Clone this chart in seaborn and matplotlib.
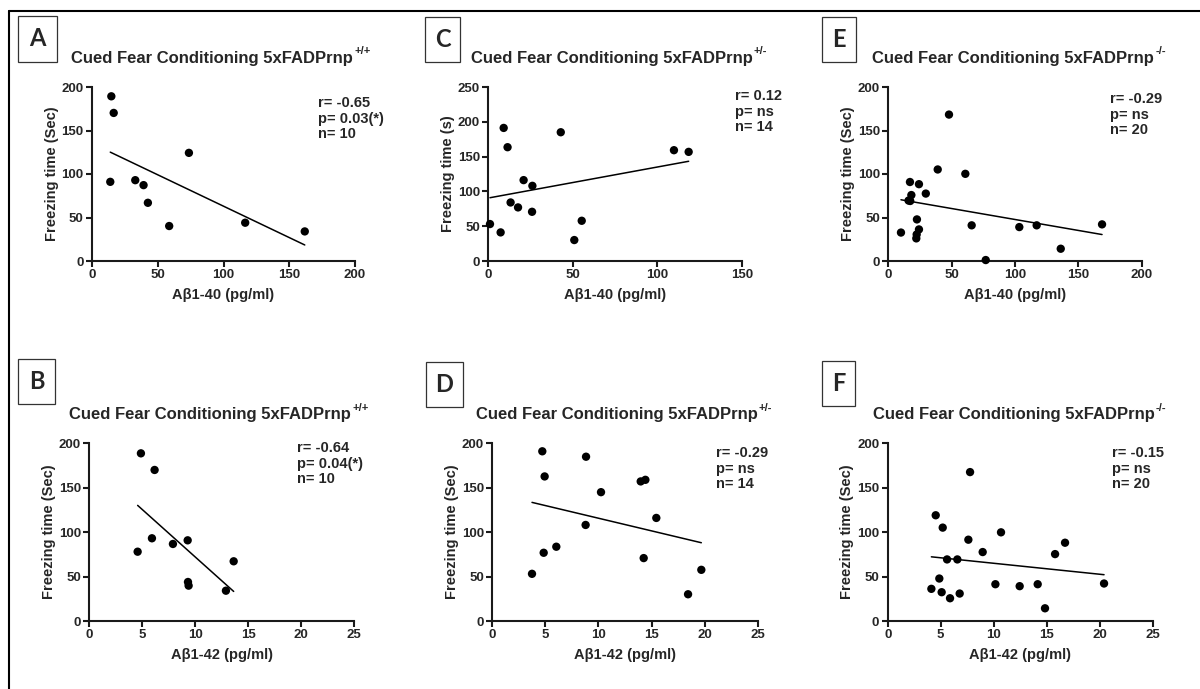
import matplotlib
matplotlib.use("Agg")
import numpy as np
import pandas as pd
import matplotlib.pyplot as plt
from matplotlib.lines import Line2D
from matplotlib.patches import Rectangle
import seaborn as sns

# ---- data: freezing time vs. amyloid-beta levels per genotype ----
# A: Aβ1-40, 5xFADPrnp+/+
a_x = [14.7, 16.5, 13.9, 32.9, 39.2, 42.5, 58.7, 73.7, 116.5, 161.8]
a_y = [189.3, 170.2, 91.0, 92.9, 87.2, 66.9, 40.2, 124.3, 44.0, 34.0]
# B: Aβ1-42, 5xFADPrnp+/+
b_x = [4.87, 6.16, 4.56, 5.91, 7.89, 9.28, 9.31, 9.37, 12.89, 13.62]
b_y = [188.7, 170.0, 78.0, 93.1, 86.7, 90.8, 43.9, 39.8, 34.1, 67.2]
# C: Aβ1-40, 5xFADPrnp+/-
c_x = [1.0, 7.3, 9.1, 11.4, 13.2, 17.6, 20.9, 26.1, 25.9, 42.9, 50.9, 55.3, 109.9, 118.6]
c_y = [53.1, 41.1, 191.2, 163.5, 84.1, 77.0, 116.2, 108.0, 70.7, 185.0, 30.1, 57.8, 159.2, 156.8]
# D: Aβ1-42, 5xFADPrnp+/-
d_x = [3.74, 4.71, 4.93, 4.84, 6.03, 8.83, 8.79, 10.24, 13.98, 14.42, 14.26, 15.45, 18.44, 19.69]
d_y = [53.1, 191.0, 162.7, 76.8, 83.6, 184.9, 108.1, 145.0, 157.1, 158.9, 70.8, 116.0, 30.1, 57.6]
# E: Aβ1-40, 5xFADPrnp-/-
e_x = [10.0, 17.1, 24.2, 29.6, 18.2, 16.0, 17.3, 39.0, 60.8, 65.8,
       76.9, 103.4, 117.1, 136.1, 168.7, 22.6, 24.2, 22.4, 22.1, 47.9]
e_y = [32.7, 90.8, 88.3, 77.5, 75.8, 69.5, 69.0, 105.2, 100.2, 41.0,
       1.1, 39.0, 41.0, 14.1, 42.1, 47.8, 36.3, 30.5, 26.0, 168.3]
# F: Aβ1-42, 5xFADPrnp-/-
f_x = [4.12, 4.53, 4.87, 5.19, 5.09, 5.60, 5.88, 6.57, 6.79, 7.61,
       7.77, 8.96, 10.16, 10.69, 12.45, 14.15, 14.84, 15.79, 16.73, 20.41]
f_y = [36.2, 119.0, 47.8, 105.1, 32.4, 69.3, 25.6, 69.3, 30.9, 91.5,
       167.6, 77.6, 41.4, 99.8, 39.2, 41.4, 14.3, 75.3, 88.1, 42.2]

panel_letters = ["A", "B", "C", "D", "E", "F"]
genotypes = ["+/+", "+/+", "+/-", "+/-", "-/-", "-/-"]
x_labels = ["Aβ1-40 (pg/ml)", "Aβ1-42 (pg/ml)"] * 3
y_labels = ["Freezing time (Sec)", "Freezing time (Sec)", "Freezing time (s)",
            "Freezing time (Sec)", "Freezing time (Sec)", "Freezing time (Sec)"]
stats_text = [
    ["r= -0.65", "p= 0.03(*)", "n= 10"],
    ["r= -0.64", "p= 0.04(*)", "n= 10"],
    ["r= 0.12", "p= ns", "n= 14"],
    ["r= -0.29", "p= ns", "n= 14"],
    ["r= -0.29", "p= ns", "n= 20"],
    ["r= -0.15", "p= ns", "n= 20"],
]
x_max = [200, 25, 150, 25, 200, 25]
x_step = [50, 5, 50, 5, 50, 5]
y_max = [200, 200, 250, 200, 200, 200]
xs = [a_x, b_x, c_x, d_x, e_x, f_x]
ys = [a_y, b_y, c_y, d_y, e_y, f_y]

# ---- style ----
sns.set_style("ticks")
plt.rcParams["font.family"] = ["Liberation Sans", "DejaVu Sans"]
plt.rcParams["font.weight"] = "bold"

W, H = 1200, 689
fig = plt.figure(figsize=(12, 6.89), dpi=100)
fig.patch.set_facecolor("white")

def fx(px):
    return px / W

def fy(py):
    return 1 - py / H

# axes rectangles in pixel space: (left, right, top, bottom)
axes_px = [
    (92, 355, 87, 261),
    (89.3, 354.3, 443.3, 621),
    (488.3, 741.7, 87, 261),
    (492.3, 757.7, 443.3, 621),
    (888.3, 1141.7, 87, 261),
    (887.7, 1152.7, 443.3, 621),
]
title_pos = [(221, 58), (219, 415), (619, 58), (624, 415), (1019, 58), (1020, 415)]
stats_pos = [(318, 96), (296.7, 441), (735, 89), (716, 446), (1110, 92), (1111.7, 446)]
letter_box = [(18, 57, 16, 62), (18, 55, 359, 404), (425, 460, 17, 62),
              (426, 463, 362, 407), (822, 856, 17, 62), (822, 855, 361, 406)]

ink = "#1a1a1a"
renderer = fig.canvas.get_renderer()

for i in range(6):
    l, r, t, b = axes_px[i]
    ax = fig.add_axes([fx(l), fy(b), fx(r - l), (b - t) / H])
    df = pd.DataFrame({"x": xs[i], "y": ys[i]})
    sns.regplot(data=df, x="x", y="y", ax=ax, ci=None, truncate=True,
                scatter_kws=dict(s=36, color="black", edgecolor="none",
                                 alpha=1.0, clip_on=False, zorder=3),
                line_kws=dict(color="black", lw=1.1, zorder=2))
    ax.set_xlim(0, x_max[i])
    ax.set_ylim(0, y_max[i])
    ax.set_xticks(np.arange(0, x_max[i] + 1, x_step[i]))
    ax.set_yticks(np.arange(0, y_max[i] + 1, 50))
    sns.despine(ax=ax)
    for side in ("left", "bottom"):
        ax.spines[side].set_linewidth(1.5)
        ax.spines[side].set_color(ink)
    ax.tick_params(axis="both", direction="out", length=4, width=1.5,
                   color=ink, labelsize=9.5, pad=2)
    for lab in ax.get_xticklabels() + ax.get_yticklabels():
        lab.set_fontweight("bold")
    ax.set_xlabel(x_labels[i], fontsize=10.5, fontweight="bold", labelpad=5)
    ax.set_ylabel(y_labels[i], fontsize=10.5, fontweight="bold", labelpad=2)
    ax.set_facecolor("none")

    # title: main text plus a small raised genotype tag
    tx, ty = title_pos[i]
    main = fig.text(0, 0, "Cued Fear Conditioning 5xFADPrnp",
                    ha="left", va="center", fontsize=12, fontweight="bold")
    sup = fig.text(0, 0, genotypes[i], ha="left", va="center",
                   fontsize=8, fontweight="bold")
    w_main = main.get_window_extent(renderer).width
    w_sup = sup.get_window_extent(renderer).width
    x0 = tx - (w_main + w_sup + 1) / 2
    main.set_position((fx(x0), fy(ty)))
    sup.set_position((fx(x0 + w_main + 1), fy(ty - 7)))

    sx, sy = stats_pos[i]
    fig.text(fx(sx), fy(sy), "\n".join(stats_text[i]), ha="left", va="top",
             fontsize=10.5, fontweight="bold", linespacing=1.15)

    bl, br, bt, bb = letter_box[i]
    fig.add_artist(Rectangle((fx(bl), fy(bb)), fx(br - bl), (bb - bt) / H,
                             transform=fig.transFigure, fill=False,
                             edgecolor="#333333", lw=0.9))
    fig.text(fx((bl + br) / 2), fy((bt + bb) / 2), panel_letters[i],
             ha="center", va="center", fontsize=17, fontweight="bold",
             family=["Lato", "DejaVu Sans"])

# outer frame (top and left edges)
fig.add_artist(Line2D([fx(9), 1.0], [fy(11), fy(11)], transform=fig.transFigure,
                      color="black", lw=1.5))
fig.add_artist(Line2D([fx(9), fx(9)], [fy(11), 0.0], transform=fig.transFigure,
                      color="black", lw=1.5))

fig.savefig("out.png", dpi=100)
